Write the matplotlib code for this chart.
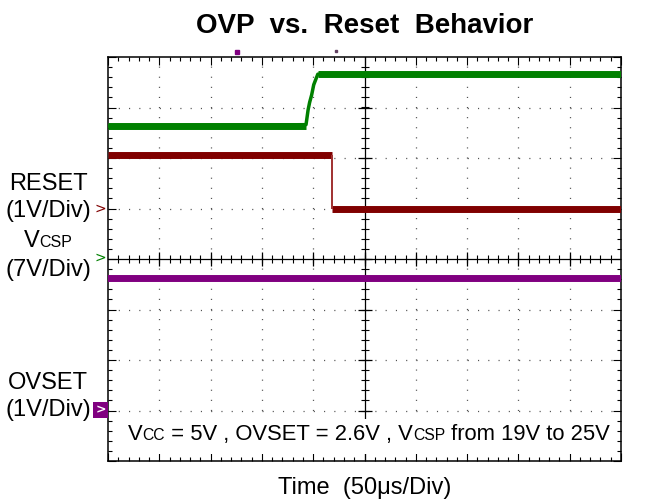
import matplotlib
matplotlib.use("Agg")
import matplotlib.pyplot as plt
from matplotlib.patches import Rectangle
from matplotlib.transforms import IdentityTransform
import numpy as np

plt.rcParams['font.family'] = ['Liberation Sans', 'DejaVu Sans']
plt.rcParams['lines.scale_dashes'] = False

# ---- data (scope divisions: x 0..10, y 0..8) ----
vcsp_t = [0.0, 3.86, 3.90, 3.93, 3.97, 4.01, 4.09, 10.0]
vcsp_v = [6.63, 6.66, 6.95, 7.10, 7.25, 7.45, 7.66, 7.66]
reset_edge_t = 4.36
reset_levels = [6.06, 5.00]
ovset_t = [0.0, 10.0]
ovset_v = [3.63, 3.63]
ref_markers = {'RESET': 5.0, 'VCSP': 4.0, 'OVSET': 1.0}
trig_marks_t = [2.51, 4.44]

title = "OVP  vs.  Reset  Behavior"
xlabel = "Time  (50\u03bcs/Div)"

GREEN = '#008000'
RED = '#800000'
PURPLE = '#800080'

W, H = 653, 500
fig = plt.figure(figsize=(W / 100, H / 100), dpi=100)
L, R, T, B = 108, 621, 57, 461
ax = fig.add_axes([L / W, 1 - B / H, (R - L) / W, (B - T) / H])
ax.set_xlim(0, 10)
ax.set_ylim(0, 8)
ax.set_xticks(np.arange(0, 11, 1))
ax.set_yticks(np.arange(0, 9, 1))
ax.set_xticks(np.arange(0, 10.01, 0.2), minor=True)
ax.set_yticks(np.arange(0, 8.01, 0.2), minor=True)
ax.tick_params(which='both', direction='in', top=True, right=True,
               labelleft=False, labelbottom=False, width=0.8, color='black')
ax.tick_params(which='major', length=6)
ax.tick_params(which='minor', length=3)
for s in ax.spines.values():
    s.set_linewidth(1.1)

# dotted grid
for i in range(1, 10):
    if i != 5:
        ax.axvline(i, color='#505050', lw=0.9, dashes=[0.8, 6.47], zorder=1)
for j in range(1, 8):
    if j != 4:
        ax.axhline(j, color='#505050', lw=0.9, dashes=[0.8, 6.59], zorder=1)

# center cross with ticks
ax.axhline(4, color='black', lw=0.9, zorder=1)
ax.axvline(5, color='black', lw=0.9, zorder=1)
minor_x = np.arange(0.2, 10, 0.2)
minor_y = np.arange(0.2, 8, 0.2)
ax.plot(minor_x, np.full_like(minor_x, 4), ls='none', marker='|', ms=6, mew=0.8, color='black', zorder=1)
ax.plot(np.full_like(minor_y, 5), minor_y, ls='none', marker='_', ms=6, mew=0.8, color='black', zorder=1)
ax.plot(np.arange(1, 10), np.full(9, 4), ls='none', marker='|', ms=10, mew=0.9, color='black', zorder=1)
ax.plot(np.full(7, 5), np.arange(1, 8), ls='none', marker='_', ms=10, mew=0.9, color='black', zorder=1)

# traces
ax.plot(vcsp_t, vcsp_v, color=GREEN, lw=2.5, zorder=3)
ax.hlines([vcsp_v[0], vcsp_v[-1]], [vcsp_t[0], vcsp_t[-2]], [vcsp_t[1], vcsp_t[-1]],
          color=GREEN, lw=5, zorder=3)
ax.hlines(reset_levels, [0, reset_edge_t], [reset_edge_t, 10], color=RED, lw=5, zorder=3)
ax.vlines(reset_edge_t, reset_levels[1], reset_levels[0], color='#a03030', lw=1.4, zorder=3)
ax.plot(ovset_t, ovset_v, color=PURPLE, lw=5, zorder=3)

# trigger marks above the frame
ax.plot(trig_marks_t[:1], [8.09], ls='none', marker='s', ms=2.2, color=PURPLE, clip_on=False)
ax.plot(trig_marks_t[1:], [8.11], ls='none', marker='s', ms=1.6, color='#604060', clip_on=False)

# reference markers on the left
ax.text(-0.15, ref_markers['RESET'], '>', color=RED, fontsize=10, ha='center', va='center',
        family='DejaVu Sans', clip_on=False)
ax.text(-0.15, ref_markers['VCSP'] + 0.03, '>', color=GREEN, fontsize=10, ha='center', va='center',
        family='DejaVu Sans', clip_on=False)
fig.patches.append(Rectangle((93 / W, 1 - 418 / H), 15 / W, 16 / H, transform=fig.transFigure,
                             facecolor=PURPLE, edgecolor='none'))
fig.text(100.5 / W, 1 - 410 / H, '>', color='white', fontsize=9, ha='center', va='center',
         family='DejaVu Sans', fontweight='bold')

# title and axis label
fig.text(365 / W, 1 - 33 / H, title, fontsize=20, fontweight='bold', ha='center', va='baseline')
fig.text(365 / W, 1 - 494 / H, xlabel, fontsize=17, ha='center', va='baseline')

fig.canvas.draw()
renderer = fig.canvas.get_renderer()


def runs(pieces, x0, ybase, center=False, zorder=5):
    """pieces: list of (text, size). x0, ybase in top-origin pixels."""
    objs = []
    x = x0
    widths = []
    for s, fs in pieces:
        t = fig.text(0, 0, s, fontsize=fs, ha='left', va='baseline', transform=IdentityTransform(),
                     zorder=zorder)
        bb = t.get_window_extent(renderer)
        widths.append(bb.width)
        objs.append(t)
    total = sum(widths)
    if center:
        x = x0 - total / 2
    for t, w in zip(objs, widths):
        t.set_position((x, H - ybase))
        x += w
    return objs


# left labels
LS = 17
fig.text(48 / W, 1 - 190 / H, "RESET", fontsize=LS, ha='center', va='baseline')
fig.text(48 / W, 1 - 217 / H, "(1V/Div)", fontsize=LS, ha='center', va='baseline')
runs([("V", LS), ("CSP", 11.5)], 48, 247, center=True)
fig.text(48 / W, 1 - 276 / H, "(7V/Div)", fontsize=LS, ha='center', va='baseline')
fig.text(48 / W, 1 - 389 / H, "OVSET", fontsize=LS, ha='center', va='baseline')
fig.text(48 / W, 1 - 416 / H, "(1V/Div)", fontsize=LS, ha='center', va='baseline')

# annotation box
ax.add_patch(Rectangle(((118 - L) / 51.3, (B - 454) / 50.5), (615 - 118) / 51.3, 35 / 50.5,
                       facecolor='white', edgecolor='none', zorder=4))
runs([("V", 15.8), ("CC", 11.3), (" = 5V , OVSET = 2.6V , V", 15.8), ("CSP", 11.3),
      (" from 19V to 25V", 15.8)], 128, 440)

fig.savefig("out.png", dpi=100)
